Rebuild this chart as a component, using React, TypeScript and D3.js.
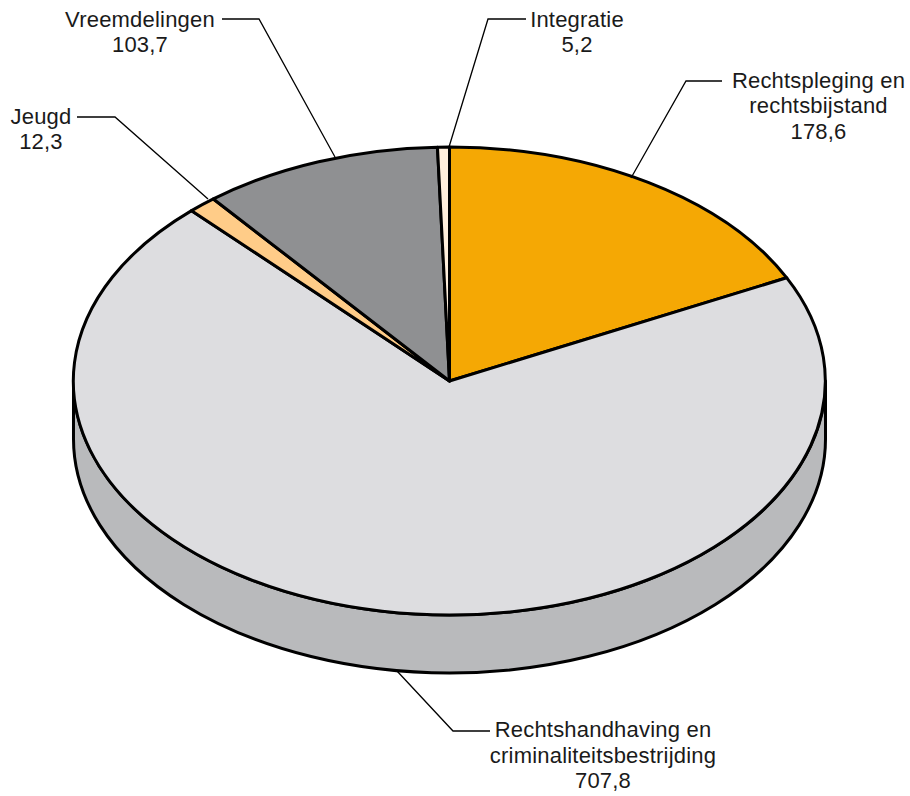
import * as d3 from 'd3';
import React from 'react';

const categories = ['Rechtspleging en rechtsbijstand', 'Rechtshandhaving en criminaliteitsbestrijding', 'Jeugd', 'Vreemdelingen', 'Integratie'];
const values = [178.6, 707.8, 12.3, 103.7, 5.2];
const valueLabels = ['178,6', '707,8', '12,3', '103,7', '5,2'];
const labelLines = [['Rechtspleging en', 'rechtsbijstand'], ['Rechtshandhaving en', 'criminaliteitsbestrijding'], ['Jeugd'], ['Vreemdelingen'], ['Integratie']];
const colors = ['#f5a804', '#dddde0', '#ffcc88', '#8f9092', '#ffefdc'];

const width = 910;
const height = 796;
const cx = 449.5;
const cy = 381;
const rx = 376;
const ry = 234;
const depth = 58;
const lineHeight = 25.7;

// label centre x, first baseline y, leader from rim to text
const labelLayout = [
  { x: 818.5, y: 87.5, leader: [[631, 178], [686, 81], [722, 81]] },
  { x: 603, y: 737, leader: [[397, 671], [453, 731], [490, 731]] },
  { x: 41, y: 123.5, leader: [[208, 199], [115, 117], [77, 117]] },
  { x: 140, y: 26.5, leader: [[335, 157], [259, 19], [222, 19]] },
  { x: 577, y: 26.5, leader: [[449, 147], [488, 19], [526, 19]] },
];

export default function App() {
  const pie = d3.pie<number>().sort(null).value((d) => d);
  const arc = d3.arc<d3.PieArcDatum<number>>().innerRadius(0).outerRadius(1);
  const slices = pie(values);
  const leaderLine = d3.line();

  const side = `M${cx - rx},${cy} A${rx},${ry} 0 0 0 ${cx + rx},${cy} L${cx + rx},${cy + depth} A${rx},${ry} 0 0 1 ${cx - rx},${cy + depth} Z`;

  return (
    <svg
      width={width}
      height={height}
      viewBox={`0 0 ${width} ${height}`}
      style={{ position: 'absolute', left: 0, top: 0, background: '#fff' }}
      fontFamily="'Liberation Sans', Arial, sans-serif"
      fontSize={22}
      letterSpacing={0.2}
      fill="#1a1a1a"
    >
      <path d={side} fill="#b9babc" stroke="#000" strokeWidth={3} strokeLinejoin="round" />
      <g transform={`translate(${cx},${cy}) scale(${rx},${ry})`}>
        {slices.map((s, i) => (
          <path
            key={categories[i]}
            d={arc(s) || ''}
            fill={colors[i]}
            stroke="#000"
            strokeWidth={3}
            strokeLinejoin="round"
            vectorEffect="non-scaling-stroke"
          />
        ))}
      </g>
      {labelLayout.map((l, i) => (
        <path key={i} d={leaderLine(l.leader as [number, number][]) || ''} fill="none" stroke="#000" strokeWidth={1.3} />
      ))}
      {labelLayout.map((l, i) => (
        <text key={i} x={l.x} y={l.y} textAnchor="middle">
          {[...labelLines[i], valueLabels[i]].map((t, j) => (
            <tspan key={j} x={l.x} y={l.y + j * lineHeight}>
              {t}
            </tspan>
          ))}
        </text>
      ))}
    </svg>
  );
}
